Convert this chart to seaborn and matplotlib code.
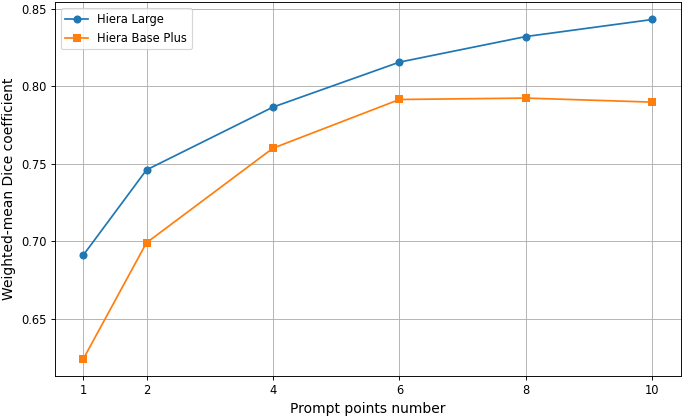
import numpy as np
import pandas as pd
import seaborn as sns
import matplotlib
matplotlib.use("Agg")
import matplotlib.pyplot as plt

# data
prompt_points = [1, 2, 4, 6, 8, 10]
hiera_large = [0.691, 0.746, 0.7865, 0.8155, 0.832, 0.843]
hiera_base_plus = [0.624, 0.699, 0.760, 0.7914, 0.7923, 0.7897]
models = ["Hiera Large", "Hiera Base Plus"]

df = pd.DataFrame({
    "points": prompt_points * 2,
    "dice": hiera_large + hiera_base_plus,
    "model": [models[0]] * len(prompt_points) + [models[1]] * len(prompt_points),
})

dpi = 83
fig, ax = plt.subplots(figsize=(685 / dpi, 416 / dpi), dpi=dpi)
sns.lineplot(data=df, x="points", y="dice", hue="model", style="model",
             markers={"Hiera Large": "o", "Hiera Base Plus": "s"}, dashes=False,
             palette=["#1f77b4", "#ff7f0e"], markersize=7, markeredgewidth=0, ax=ax)

ax.set_xticks(prompt_points)
ax.set_xlabel("Prompt points number", fontsize=12)
ax.set_ylabel("Weighted-mean Dice coefficient", fontsize=12)
ax.grid(True)
ax.legend(title=None, loc="upper left")

fig.subplots_adjust(left=0.080, right=0.994, top=0.994, bottom=0.096)
plt.savefig("out.png", dpi=dpi)
